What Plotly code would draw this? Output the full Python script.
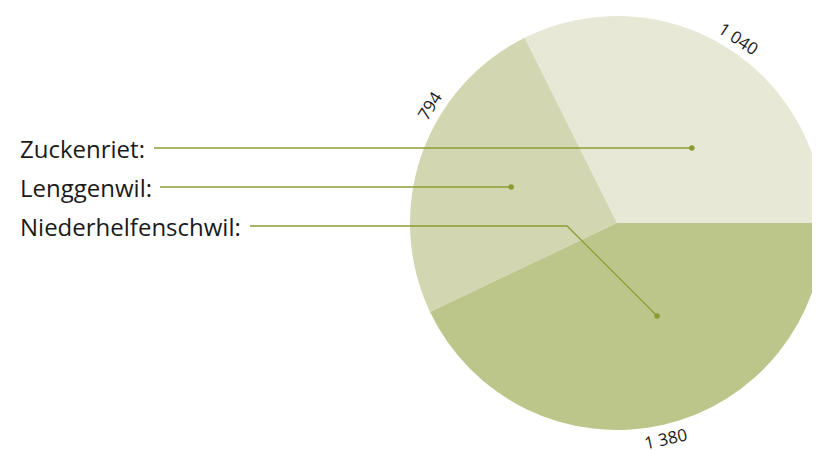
import math
import plotly.graph_objects as go

W, H = 820, 450
OFF = 8  # page body margin in the viewer

labels = ["Zuckenriet", "Lenggenwil", "Niederhelfenschwil"]
values = [1040, 794, 1380]
value_text = ["1 040", "794", "1 380"]
colors = ["#e7e9d6", "#d2d7b1", "#bcc58a"]
line_color = "#8c9c34"

# layout (screen pixels)
cx, cy, R = 617, 223, 207
label_x = 18
label_y = [148, 187, 226]
line_start = [154, 160, 250]
value_angle_offset = [-1.6, -13, 0]
anchor_angle_offset = [-13.2, 0, 10.6]
anchor_frac = [0.512, 0.541, 0.489]


def px(x):
    return (x - OFF) / W


def py(y):
    return 1 - (y - OFF) / H


total = sum(values)
first_span = values[0] / total * 360

fig = go.Figure(go.Pie(
    labels=labels, values=values, sort=False, direction="counterclockwise",
    rotation=90 - first_span, marker=dict(colors=colors, line=dict(width=0)),
    textinfo="none", hoverinfo="label+value", showlegend=False,
    domain=dict(x=[px(cx - R), min(1.0, px(cx + R))], y=[py(cy + R), py(cy - R)]),
))

start = 0.0
mids = []
for v in values:
    span = v / total * 360
    mids.append(start + span / 2)
    start += span

annotations = []
shapes = []
for i, lab in enumerate(labels):
    th = mids[i] + value_angle_offset[i]
    r = R + 14
    x = cx + r * math.cos(math.radians(th))
    y = cy - r * math.sin(math.radians(th))
    ang = -(th - 90)
    while ang > 90:
        ang -= 180
    while ang <= -90:
        ang += 180
    annotations.append(dict(x=px(x), y=py(y), xref="paper", yref="paper", text=value_text[i],
                            showarrow=False, textangle=ang, xanchor="center", yanchor="middle",
                            font=dict(family="Open Sans", size=17, color="#1a1a1a")))
    annotations.append(dict(x=px(label_x), y=py(label_y[i]), xref="paper", yref="paper",
                            text=lab + ":", showarrow=False, xanchor="left", yanchor="middle",
                            font=dict(family="Open Sans", size=24, color="#1a1a1a")))
    tha = mids[i] + anchor_angle_offset[i]
    ax = cx + anchor_frac[i] * R * math.cos(math.radians(tha))
    ay = cy - anchor_frac[i] * R * math.sin(math.radians(tha))
    if abs(ay - label_y[i]) < 3:
        ay = label_y[i]
        shapes.append(dict(type="line", xref="paper", yref="paper", x0=px(line_start[i]), y0=py(ay),
                           x1=px(ax), y1=py(ay), line=dict(color=line_color, width=1.3)))
    else:
        bend = ax - (ay - label_y[i])
        shapes.append(dict(type="path", xref="paper", yref="paper",
                           path=f"M {px(line_start[i])},{py(label_y[i])} L {px(bend)},{py(label_y[i])} L {px(ax)},{py(ay)}",
                           line=dict(color=line_color, width=1.3)))
    shapes.append(dict(type="circle", xref="paper", yref="paper", xsizemode="pixel", ysizemode="pixel",
                       xanchor=px(ax), yanchor=py(ay), x0=-2.8, x1=2.8, y0=-2.8, y1=2.8,
                       fillcolor=line_color, line=dict(width=0)))

fig.update_layout(width=W, height=H, margin=dict(l=0, r=0, t=0, b=0),
                  paper_bgcolor="white", plot_bgcolor="white",
                  annotations=annotations, shapes=shapes)
fig.write_html("out.html")
